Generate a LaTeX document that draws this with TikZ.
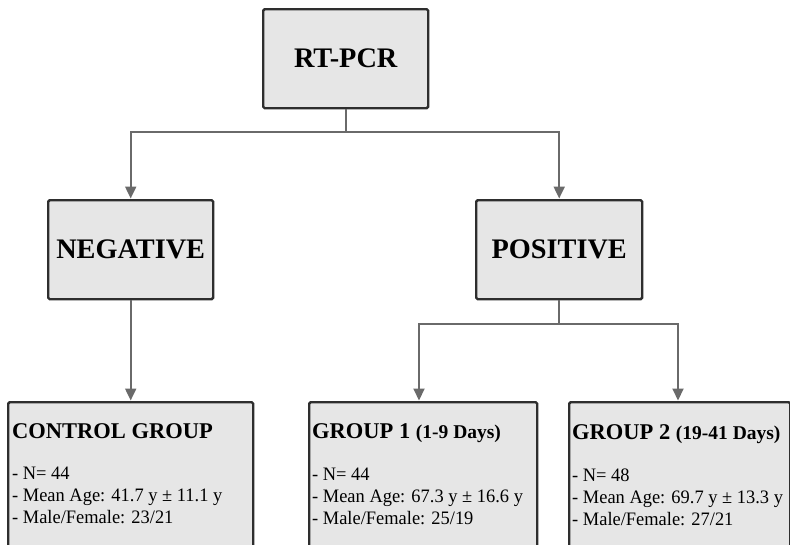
\documentclass[tikz,border=0pt]{standalone}
\usepackage{fontspec}
\setmainfont{Liberation Serif}
\newfontfamily\bodyfont[FakeStretch=0.97]{Liberation Serif}
\usetikzlibrary{arrows.meta}
\definecolor{boxfill}{HTML}{E6E6E6}
\definecolor{boxline}{HTML}{2E2E2E}
\definecolor{conn}{HTML}{6A6A6A}
\tikzset{
  gbox/.style={draw=boxline, fill=boxfill, line width=2.4pt, rounded corners=1.5pt, inner sep=0pt, anchor=north west},
  link/.style={draw=conn, line width=2pt},
  arrowlink/.style={link, -{Triangle[length=12pt,width=11pt]}, shorten >=0.5pt},
  ttl/.style={font=\bfseries\fontsize{28.3}{31}\selectfont, inner sep=0pt},
  grp/.style={font=\bfseries\fontsize{22.5}{26}\selectfont, inner sep=0pt, anchor=base west},
  body/.style={font=\bodyfont\fontsize{19}{22}\selectfont, inner sep=0pt, anchor=base west, align=left},
}
\newcommand{\subttl}[1]{{\fontsize{19.5}{22}\selectfont #1}}
\begin{document}
\begin{tikzpicture}[x=1pt,y=-1pt]
\useasboundingbox[fill=white] (0,0) rectangle (790,544);
% top boxes
\node[gbox, minimum width=165pt, minimum height=99pt] (rt) at (262,8) {};
\node[ttl] (rtt) at (rt.center) {RT-PCR};
\node[gbox, minimum width=165pt, minimum height=99pt] (neg) at (47,199) {};
\node[ttl] (negt) at (neg.center) {NEGATIVE};
\node[gbox, minimum width=166pt, minimum height=99pt] (pos) at (475,199) {};
\node[ttl] (post) at (pos.center) {POSITIVE};
% bottom boxes
\node[gbox, minimum width=245pt, minimum height=170pt] (ctl) at (7,401) {};
\node[gbox, minimum width=228pt, minimum height=170pt] (g1) at (308,401) {};
\node[gbox, minimum width=221pt, minimum height=170pt] (g2) at (568,401) {};
% texts
\node[grp] (ctlt) at (12,438) {CONTROL GROUP};
\node[body] (ctl1) at (12,479) {- N= 44};
\node[body] (ctl2) at (12,501) {- Mean Age: 41.7 y ± 11.1 y};
\node[body] (ctl3) at (12,523) {- Male/Female: 23/21};
\node[grp] (g1t) at (312,438) {GROUP 1 \subttl{(1-9 Days)}};
\node[body] (g11) at (312,480) {- N= 44};
\node[body] (g12) at (312,502) {- Mean Age: 67.3 y ± 16.6 y};
\node[body] (g13) at (312,524) {- Male/Female: 25/19};
\node[grp] (g2t) at (572,439) {GROUP 2 \subttl{(19-41 Days)}};
\node[body] (g21) at (572,481) {- N= 48};
\node[body] (g22) at (572,503) {- Mean Age: 69.7 y ± 13.3 y};
\node[body] (g23) at (572,525) {- Male/Female: 27/21};
% connectors
\path (rt.south |- 0,132) coordinate (f1);
\path (pos.south |- 0,324) coordinate (f2);
\draw[link] (rt.south) -- (f1);
\draw[arrowlink] (f1) -| (neg.north);
\draw[arrowlink] (f1) -| (pos.north);
\draw[arrowlink] (neg.south) -- (neg.south |- ctl.north);
\draw[link] (pos.south) -- (f2);
\coordinate (a1) at (419,324);
\coordinate (a2) at (678,324);
\draw[arrowlink] (f2) -- (a1) -- (a1 |- g1.north);
\draw[arrowlink] (f2) -- (a2) -- (a2 |- g2.north);
\end{tikzpicture}
\end{document}
